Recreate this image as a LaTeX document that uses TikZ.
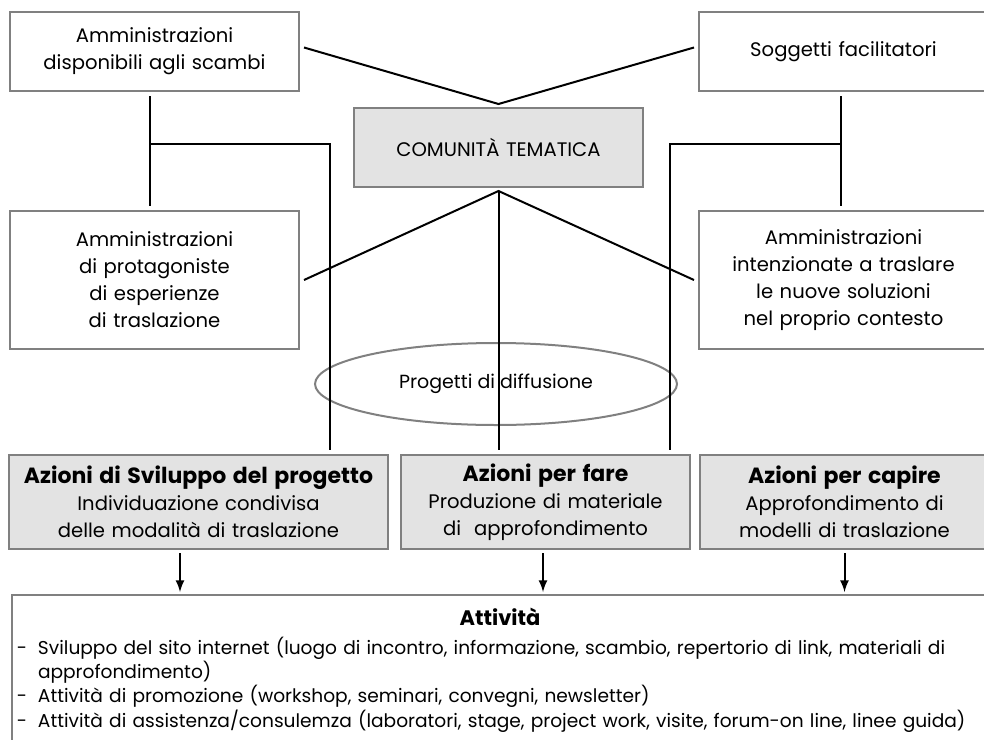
\documentclass[tikz,border=0pt]{standalone}
\usepackage{fontspec}
\setmainfont{Poppins}
\usepackage{tikz}
\usetikzlibrary{positioning,shapes,arrows}

\newcommand{\azhead}[1]{{\fontsize{11}{13.5}\selectfont\bfseries #1}}
\newcommand{\attitem}{\noindent\makebox[10.5pt][l]{-}}

\tikzset{
  sbox/.style={draw=black!50, line width=1pt, align=center, inner xsep=0pt, minimum width=144.5pt, text width=144.5pt, font=\fontsize{9.8}{13.5}\selectfont},
  gbox/.style={sbox, fill=black!11},
  link/.style={line width=1pt, black},
}

\begin{document}
\begin{tikzpicture}[x=0.5pt, y=0.5pt, >=latex]
    \useasboundingbox (0,0) rectangle (984,-739);
    \clip (0,0) rectangle (984,-739);

    \node[sbox, minimum height=39.5pt] (adisp) at (154.5,-51.5) {Amministrazioni\\disponibili agli scambi};
    \node[sbox, minimum height=39.5pt] (sogg) at (843.5,-51.5) {Soggetti facilitatori};
    \node[gbox, minimum height=39.5pt] (comunita) at (498.5,-147.5) {COMUNITÀ TEMATICA};
    \node[sbox, minimum height=69pt, below=59pt of adisp] (aprot) {Amministrazioni\\di protagoniste\\di esperienze\\di traslazione};
    \node[sbox, minimum height=69pt, below=59pt of sogg] (aint) {Amministrazioni\\intenzionate a traslare\\le nuove soluzioni\\nel proprio contesto};

    \node[shape=ellipse, draw=black!50, line width=1pt, minimum width=181pt, minimum height=41pt, font=\fontsize{9.5}{12}\selectfont] (progetti) at (496,-384) {Progetti di diffusione};

    \node[gbox, minimum width=189.5pt, text width=189.5pt, minimum height=47pt] (azsvil) at (198.5,-502) {\azhead{Azioni di Sviluppo del progetto}\\Individuazione condivisa\\delle modalità di traslazione};
    \node[gbox, minimum height=47pt, right=5.5pt of azsvil] (azfare) {\azhead{Azioni per fare}\\Produzione di materiale\\di~~approfondimento};
    \node[gbox, minimum height=47pt, right=4pt of azfare] (azcap) {\azhead{Azioni per capire}\\Approfondimento di\\modelli di traslazione};

    \node[draw=black!50, line width=1pt, anchor=north west, text width=483pt, inner xsep=2.5pt, inner ysep=0.5pt, minimum height=75pt, align=left, font=\fontsize{9.3}{10.5}\selectfont] (att) at (11,-594) {%
      {\centering\fontsize{10.5}{12}\selectfont\bfseries Attività\par}\vspace{4pt}
      \hangindent=10.5pt\hangafter=1\attitem Sviluppo del sito internet (luogo di incontro, informazione, scambio, repertorio di link, materiali di\hfil\break approfondimento)\par
      \attitem Attività di promozione (workshop, seminari, convegni, newsletter)\par
      \attitem Attività di assistenza/consulemza (laboratori, stage, project work, visite, forum-on line, linee guida)\par};

    % comunita' in the middle
    \draw[link] ([xshift=2pt,yshift=2pt]adisp.east) -- ([yshift=1.5pt]comunita.north) -- ([xshift=-2pt,yshift=2pt]sogg.west);
    \draw[link] ([xshift=2pt]aprot.east) -- ([yshift=-1.5pt]comunita.south) -- ([xshift=-2pt]aint.west);
    \draw[link, shorten >=2pt] ([yshift=-1.5pt]comunita.south) -- (comunita.south |- azfare.north);

    % left and right trees
    \draw[link, shorten <=2pt, shorten >=2pt] ([xshift=-2.25pt]adisp.south) -- ([xshift=-2.25pt]aprot.north);
    \coordinate (ljoin) at ([xshift=-2.25pt,yshift=1.75pt]adisp.south |- comunita.center);
    \draw[link] (ljoin) -| ([xshift=65.75pt,yshift=2pt]azsvil.north);
    \draw[link, shorten <=2pt, shorten >=2pt] ([xshift=-1.25pt]sogg.south) -- ([xshift=-1.25pt]aint.north);
    \coordinate (rjoin) at ([xshift=-1.25pt,yshift=1.75pt]sogg.south |- comunita.center);
    \draw[link] (rjoin) -| ([xshift=-87.5pt,yshift=2pt]azcap.north);

    \foreach \b/\s in {azsvil/-9.25pt, azfare/-1.25pt, azcap/0pt}
        \draw[link, ->, shorten <=1.5pt, shorten >=1pt] ([xshift=\s]\b.south) -- ([xshift=\s]\b.south |- att.north);

\end{tikzpicture}
\end{document}
